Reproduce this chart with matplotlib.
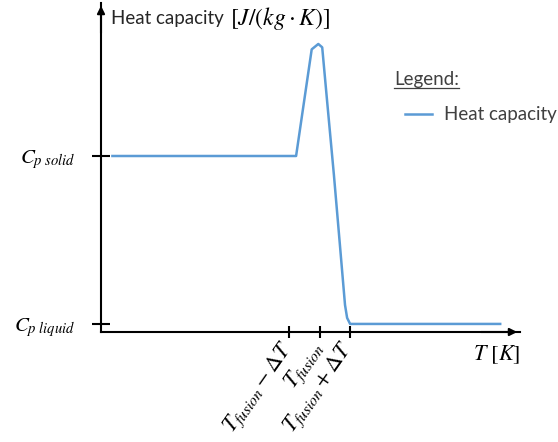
import numpy as np
import matplotlib.pyplot as plt
from matplotlib.lines import Line2D

plt.rcParams['mathtext.fontset'] = 'stix'

# temperature in units of dT, measured from T_fusion; heat capacity relative (liquid=0, solid=1)
T = [-6.9, -0.78, -0.26, -0.04, 0.09, 0.25, 0.48, 0.68, 0.85, 0.92, 1.02, 6.02]
cp = [1.0, 1.0, 1.635, 1.667, 1.647, 1.333, 0.887, 0.47, 0.113, 0.036, 0.0, 0.0]

x_ticks = [-1, 0, 1]
x_labels = [r'$T_{fusion}-\Delta T$', r'$T_{fusion}$', r'$T_{fusion}+\Delta T$']
y_ticks = [0, 1]
y_labels = [r'$C_{p\ liquid}$', r'$C_{p\ solid}$']

fig = plt.figure(figsize=(5.58, 4.42), dpi=100)
ax = fig.add_axes([101 / 558, 1 - 332 / 442, 419 / 558, 329 / 442])

line, = ax.plot(T, cp, color='#5b9bd5', lw=1.8, label='Heat capacity')
ax.set_xlim(-7.28, 6.68)
ax.set_ylim(-0.048, 1.911)

for s in ['top', 'right']:
    ax.spines[s].set_visible(False)
for s in ['left', 'bottom']:
    ax.spines[s].set_linewidth(1.5)

ax.set_xticks(x_ticks)
ax.set_xticklabels(x_labels, rotation=55, ha='right', va='center',
                   rotation_mode='anchor', fontsize=16)
ax.set_yticks(y_ticks)
ax.set_yticklabels(y_labels, fontsize=15)
ax.tick_params(axis='x', direction='inout', length=8, width=1.5, pad=5)
ax.tick_params(axis='y', direction='inout', length=13, width=1.5, pad=12)

# arrows on the axes
ax.annotate('', xy=(1, 0), xytext=(0.9, 0), xycoords='axes fraction',
            arrowprops=dict(arrowstyle='-|>', lw=1.5, color='black', mutation_scale=11))
ax.annotate('', xy=(0, 1), xytext=(0, 0.9), xycoords='axes fraction',
            arrowprops=dict(arrowstyle='-|>', lw=1.5, color='black', mutation_scale=11))

head = ax.text(0.024, 0.954, 'Heat capacity', transform=ax.transAxes, fontsize=13.5,
               family='Lato', color='#262626', va='center', ha='left')
ax.text(1.0, -0.07, r'$T\ [K]$', transform=ax.transAxes, fontsize=16,
        va='center', ha='right')

leg_title = ax.text(0.70, 0.766, 'Legend:', transform=ax.transAxes, fontsize=13.5,
                    family='Lato', color='#404040', va='center', ha='left')
leg = ax.legend(handles=[line], loc='center left', bbox_to_anchor=(0.725, 0.66),
                frameon=False, borderpad=0, borderaxespad=0, handlelength=1.44,
                handletextpad=0.64, prop={'family': 'Lato', 'size': 13.5})
for t in leg.get_texts():
    t.set_color('#404040')

fig.canvas.draw()
inv = fig.transFigure.inverted()
hb = head.get_window_extent().transformed(inv)
fig.text(hb.x1 + 6 / 558, (hb.y0 + hb.y1) / 2, r'$[J/(kg\cdot K)]$', fontsize=17,
         va='center', ha='left')

# underline the legend heading
bb = leg_title.get_window_extent().transformed(inv)
fig.add_artist(Line2D([bb.x0, bb.x1], [bb.y0 + 0.002, bb.y0 + 0.002],
                      color='#404040', lw=0.9))

fig.savefig('out.png', dpi=100)
